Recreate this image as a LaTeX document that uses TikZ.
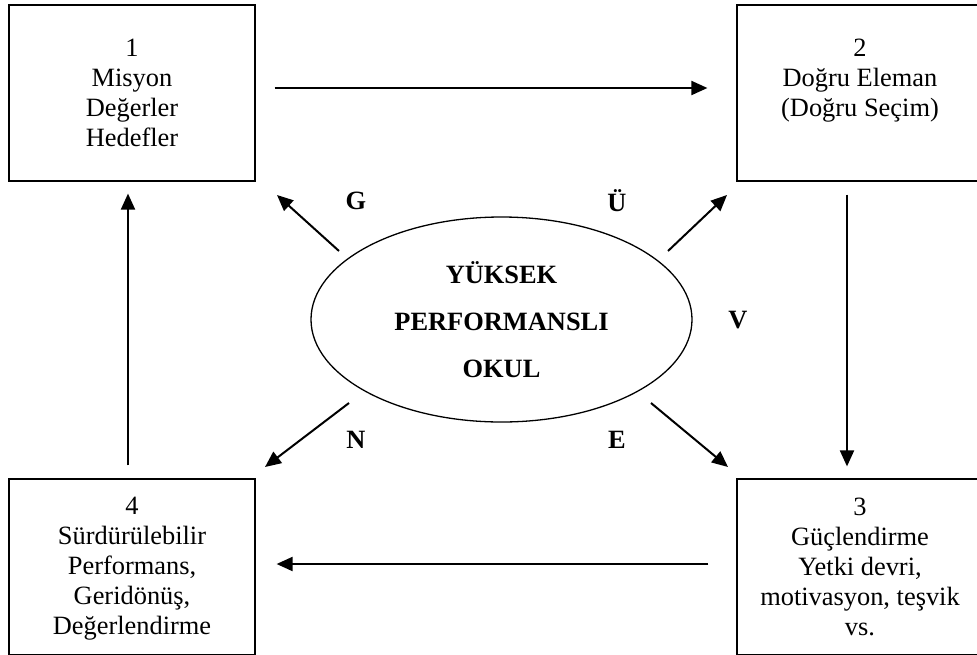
\documentclass[tikz,border=0pt]{standalone}
\usepackage{fontspec}
\setmainfont{Liberation Serif}
\usetikzlibrary{positioning,shapes.geometric,arrows.meta}

\tikzset{
  frame/.style={draw, line width=1.2pt, minimum width=246pt, minimum height=176pt, inner sep=0pt},
  boxtext/.style={align=center, inner sep=0pt, font=\fontsize{26.4}{30}\selectfont},
  letter/.style={inner sep=0pt, font=\fontsize{26.4}{30}\selectfont\bfseries},
  arr/.style={-{Triangle[length=16pt,width=14pt]}, line width=2pt},
}

\begin{document}
\begin{tikzpicture}[x=1pt,y=-1pt]
\pgfmathsetmacro{\topgap}{34}
\pgfmathsetmacro{\bottomgap}{19}

\useasboundingbox (0,0) rectangle (977,654);

\node[frame] (mission) at (132,93) {};
\node[frame] (selection) at (860,93) {};
\node[frame] (empower) at (860,567) {};
\node[frame] (sustain) at (132,567) {};

\node[boxtext, below=\topgap pt of mission.north] (missiontext) {1\\Misyon\\Değerler\\Hedefler};
\node[boxtext, below=\topgap pt of selection.north] (selectiontext) {2\\Doğru Eleman\\(Doğru Seçim)};
\node[boxtext, below=\bottomgap pt of empower.north] (empowertext) {3\\Güçlendirme\\Yetki devri,\\motivasyon, teşvik\\vs.};
\node[boxtext, below=\bottomgap pt of sustain.north] (sustaintext) {4\\Sürdürülebilir\\Performans,\\Geridönüş,\\Değerlendirme};

\node[ellipse, draw, line width=1.3pt, minimum width=381pt, minimum height=205pt, inner sep=0pt,
  align=center, font=\fontsize{26.4}{47}\selectfont\bfseries] (school) at (501.5,319.5) {YÜKSEK\\PERFORMANSLI\\OKUL};

% cycle between the boxes
\draw[arr, shorten <=19pt, shorten >=29pt] ([yshift=5pt]mission.east) -- ([yshift=5pt]selection.west);
\draw[arr, shorten <=13pt, shorten >=12pt] ([xshift=-13pt]selection.south) -- ([xshift=-13pt]empower.north);
\draw[arr, shorten <=28pt, shorten >=21pt] ([yshift=3pt]empower.west) -- ([yshift=3pt]sustain.east);
\draw[arr, shorten <=13pt, shorten >=12pt] ([xshift=-4pt]sustain.north) -- ([xshift=-4pt]mission.south);

% arrows out of the ellipse
\coordinate (g_from) at (339,251);
\coordinate (g_to) at (277,195);
\coordinate (u_from) at (668,251);
\coordinate (u_to) at (727,195);
\coordinate (n_from) at (349,403);
\coordinate (n_to) at (265,467);
\coordinate (e_from) at (651,403);
\coordinate (e_to) at (728,467);
\draw[arr] (g_from) -- (g_to);
\draw[arr] (u_from) -- (u_to);
\draw[arr] (n_from) -- (n_to);
\draw[arr] (e_from) -- (e_to);

\node[letter] (g) at (356,201) {G};
\node[letter] (u) at (617,201) {Ü};
\node[letter] (n) at (356,440) {N};
\node[letter] (e) at (617,440) {E};
\node[letter] (v) at (738,320) {V};
\end{tikzpicture}
\end{document}
